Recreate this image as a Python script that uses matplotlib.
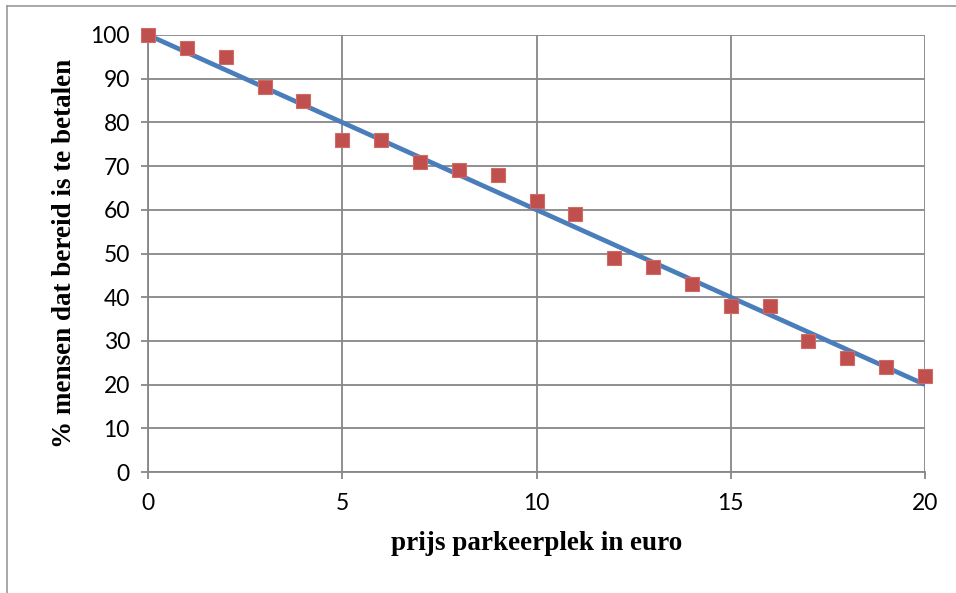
import matplotlib.pyplot as plt
from matplotlib.lines import Line2D

# data
prices = [0, 1, 2, 3, 4, 5, 6, 7, 8, 9, 10, 11, 12, 13, 14, 15, 16, 17, 18, 19, 20]
percent = [100, 97, 95, 88, 85, 76, 76, 71, 69, 68, 62, 59, 49, 47, 43, 38, 38, 30, 26, 24, 22]
trend_x = [0, 20]
trend_y = [100, 20]
x_ticks = [0, 5, 10, 15, 20]
y_ticks = [0, 10, 20, 30, 40, 50, 60, 70, 80, 90, 100]

GRID = '#878787'
tick_font = ['Lato', 'DejaVu Sans']
label_font = ['Liberation Serif', 'DejaVu Serif']

fig = plt.figure(figsize=(9.56, 5.93), dpi=100)
ax = fig.add_axes([0.1548, 0.204, 0.8128, 0.737])

ax.plot(trend_x, trend_y, color='#4a7ebb', lw=3.4, solid_capstyle='butt', zorder=3, clip_on=False)
ax.plot(prices, percent, 's', ms=10, color='#c0504d', mec='#d06a67', mew=0.8, zorder=4, clip_on=False)

ax.set_xlim(0, 20)
ax.set_ylim(0, 100)
ax.set_xticks(x_ticks)
ax.set_yticks(y_ticks)
ax.grid(True, color=GRID, lw=1.3)
ax.set_axisbelow(True)
for side in ('top', 'right'):
    ax.spines[side].set_visible(False)
for side in ('left', 'bottom'):
    ax.spines[side].set_color(GRID)
    ax.spines[side].set_linewidth(1.3)
ax.tick_params(colors=GRID, length=5, width=1.3, labelcolor='black', labelsize=16.5)
ax.tick_params(axis='y', pad=8)
ax.tick_params(axis='x', pad=10)
for lbl in ax.get_xticklabels() + ax.get_yticklabels():
    lbl.set_family(tick_font)

ax.set_xlabel('prijs parkeerplek in euro', family=label_font, fontweight='bold', fontsize=19.5, labelpad=12)
ax.set_ylabel('% mensen dat bereid is te betalen', family=label_font, fontweight='bold', fontsize=19.5, labelpad=10)

# outer chart frame (left and top edges only)
for xs, ys in (([7, 7], [0, 587]), ([7, 956], [587, 587])):
    fig.add_artist(Line2D([x / 956 for x in xs], [y / 593 for y in ys], color='#9a9a9a', lw=1.2))

fig.savefig('out.png', dpi=100)
